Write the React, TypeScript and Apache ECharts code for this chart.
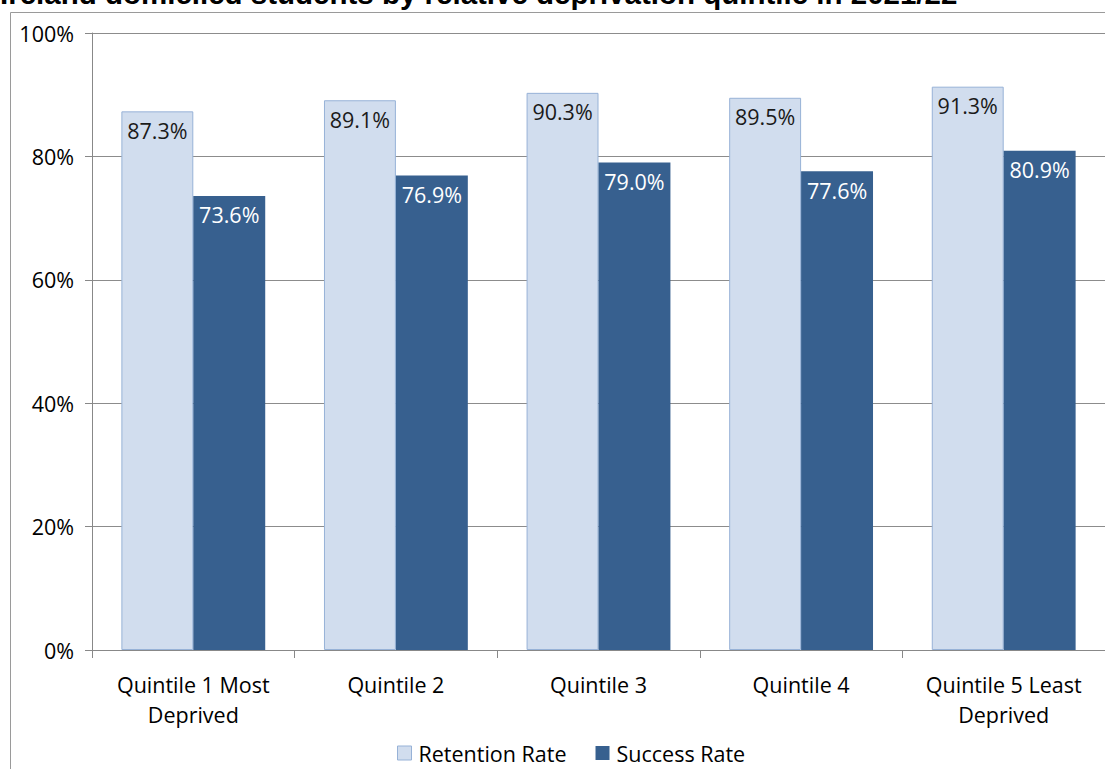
import React, { useEffect, useRef } from "react";
import * as echarts from "echarts";

const categories = ["Quintile 1 Most\nDeprived", "Quintile 2", "Quintile 3", "Quintile 4", "Quintile 5 Least\nDeprived"];
const retentionRate = [87.3, 89.1, 90.3, 89.5, 91.3];
const successRate = [73.6, 76.9, 79.0, 77.6, 80.9];
const yTicks = [0, 20, 40, 60, 80, 100];
const titleText = "Ireland domiciled students by relative deprivation quintile in 2021/22";

const FONT = "'Open Sans', Lato, sans-serif";
const FS = 21.5;

export default function App() {
  const ref = useRef<HTMLDivElement>(null);
  useEffect(() => {
    if (!ref.current) return;
    const chart = echarts.init(ref.current, undefined, { renderer: "svg" });
    chart.setOption({
      animation: false,
      backgroundColor: "#ffffff",
      textStyle: { fontFamily: FONT },
      graphic: [
        {
          type: "text",
          left: 0,
          top: -22,
          style: { text: titleText, font: "bold 29.5px 'Liberation Sans', Arial, sans-serif", fill: "#000" },
        },
        { type: "line", shape: { x1: 10.5, y1: 12.5, x2: 1105, y2: 12.5 }, style: { stroke: "#9a9a9a", lineWidth: 1 } },
        { type: "line", shape: { x1: 10.5, y1: 12.5, x2: 10.5, y2: 769 }, style: { stroke: "#9a9a9a", lineWidth: 1 } },
      ],
      legend: {
        bottom: 0,
        left: 392,
        itemWidth: 14,
        itemHeight: 14,
        itemGap: 29,
        icon: "rect",
        textStyle: { fontSize: FS, color: "#000", fontFamily: FONT, padding: [0, 0, 0, 2] },
        data: [
          { name: "Retention Rate", itemStyle: { color: "#D1DDEE", borderColor: "#97B2D7", borderWidth: 1 } },
          { name: "Success Rate" },
        ],
      },
      grid: { left: 92, right: -3, top: 33, bottom: 119, containLabel: false },
      xAxis: {
        type: "category",
        data: categories,
        axisLine: { lineStyle: { color: "#888" } },
        axisTick: { show: true, length: 8, lineStyle: { color: "#888" } },
        axisLabel: { color: "#000", fontSize: FS, lineHeight: 30, margin: 19, interval: 0, fontFamily: FONT },
      },
      yAxis: {
        type: "value",
        min: 0,
        max: 100,
        interval: 20,
        axisLine: { show: true, lineStyle: { color: "#888" } },
        axisTick: { show: true, length: 7, lineStyle: { color: "#888" } },
        axisLabel: {
          color: "#000",
          fontSize: FS,
          margin: 18,
          fontFamily: FONT,
          formatter: (v: number) => (yTicks.includes(v) ? v + "%" : ""),
        },
        splitLine: { lineStyle: { color: "#8c8c8c" } },
      },
      series: [
        {
          name: "Retention Rate",
          type: "bar",
          data: retentionRate,
          barGap: "0%",
          barCategoryGap: "29%",
          itemStyle: { color: "#D1DDEE", borderColor: "#97B2D7", borderWidth: 1 },
          label: {
            show: true,
            position: "insideTop",
            distance: 8,
            color: "#1a1a1a",
            fontSize: FS,
            fontFamily: FONT,
            formatter: (p: any) => p.value.toFixed(1) + "%",
          },
        },
        {
          name: "Success Rate",
          type: "bar",
          data: successRate,
          itemStyle: { color: "#37608F" },
          label: {
            show: true,
            position: "insideTop",
            distance: 8,
            color: "#ffffff",
            fontSize: FS,
            fontFamily: FONT,
            formatter: (p: any) => p.value.toFixed(1) + "%",
          },
        },
      ],
    });
    return () => chart.dispose();
  }, []);
  return <div ref={ref} style={{ position: "absolute", left: 0, top: 0, width: 1105, height: 769 }} />;
}
